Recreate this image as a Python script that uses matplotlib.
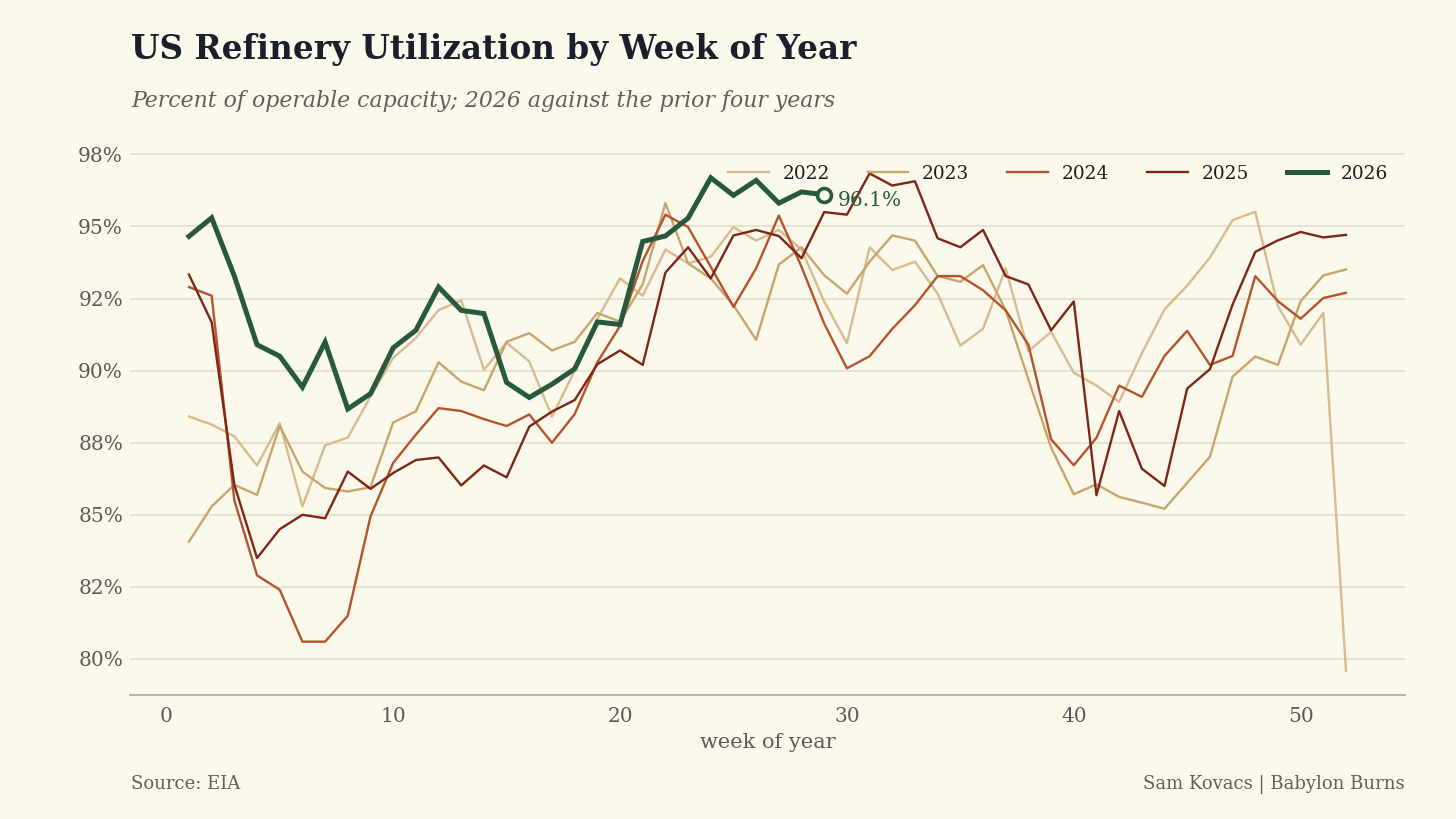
import matplotlib
matplotlib.use("Agg")
import matplotlib.pyplot as plt
import numpy as np
from matplotlib.ticker import FuncFormatter, FixedLocator

weeks = list(range(1, 53))

util_2022 = [88.41, 88.13, 87.72, 86.71, 88.18, 85.29, 87.41, 87.68, 89.1, 90.44,
             91.13, 92.1, 92.44, 90.03, 90.97, 90.32, 88.4, 90.0, 91.8, 93.2,
             92.6, 94.2, 93.72, 93.95, 94.98, 94.51, 94.88, 94.2, 92.4, 90.95,
             94.28, 93.49, 93.78, 92.67, 90.87, 91.45, 93.55, 90.67, 91.35, 89.93,
             89.48, 88.92, 90.6, 92.12, 92.95, 93.92, 95.22, 95.51, 92.23, 90.9,
             92.0, 79.58]
util_2023 = [84.07, 85.29, 86.04, 85.69, 88.09, 86.5, 85.93, 85.81, 85.96, 88.2,
             88.59, 90.29, 89.62, 89.32, 91.0, 91.3, 90.7, 91.0, 92.0, 91.7,
             93.0, 95.81, 93.72, 93.2, 92.27, 91.07, 93.68, 94.28, 93.31, 92.67,
             93.78, 94.69, 94.51, 93.28, 93.08, 93.66, 92.09, 89.7, 87.33, 85.71,
             86.06, 85.62, 85.42, 85.21, 86.11, 87.01, 89.79, 90.49, 90.2, 92.41,
             93.3, 93.51]
util_2024 = [92.9, 92.6, 85.5, 82.9, 82.4, 80.6, 80.6, 81.5, 84.94, 86.8,
             87.78, 88.7, 88.6, 88.32, 88.08, 88.48, 87.5, 88.49, 90.29, 91.55,
             93.8, 95.41, 94.98, 93.6, 92.21, 93.55, 95.38, 93.6, 91.63, 90.08,
             90.5, 91.45, 92.27, 93.28, 93.28, 92.79, 92.09, 90.9, 87.62, 86.72,
             87.67, 89.48, 89.09, 90.51, 91.38, 90.2, 90.51, 93.28, 92.41, 91.8,
             92.52, 92.7]
util_2025 = [93.33, 91.68, 86.04, 83.5, 84.5, 85.0, 84.88, 86.5, 85.9, 86.45,
             86.9, 86.99, 86.02, 86.71, 86.3, 88.06, 88.58, 88.98, 90.22, 90.7,
             90.2, 93.4, 94.28, 93.2, 94.69, 94.88, 94.67, 93.9, 95.5, 95.41,
             96.84, 96.42, 96.57, 94.59, 94.28, 94.88, 93.28, 92.99, 91.4, 92.4,
             85.68, 88.6, 86.6, 86.0, 89.38, 90.05, 92.29, 94.12, 94.52, 94.81,
             94.62, 94.71]
weeks_2026 = list(range(1, 30))
util_2026 = [94.66, 95.3, 93.28, 90.9, 90.5, 89.43, 90.99, 88.67, 89.2, 90.79,
             91.4, 92.9, 92.09, 91.98, 89.59, 89.07, 89.53, 90.06, 91.69, 91.6,
             94.48, 94.67, 95.29, 96.69, 96.08, 96.6, 95.81, 96.2, 96.1]

y_ticks = [80, 82.5, 85, 87.5, 90, 92.5, 95, 97.5]
x_ticks = [0, 10, 20, 30, 40, 50]

BG = "#fbf8ec"
colors = {"2022": "#d6bc8f", "2023": "#c8a56c", "2024": "#b5532e", "2025": "#7d2616", "2026": "#275a3d"}

plt.rcParams["font.family"] = ["DejaVu Serif"]

fig = plt.figure(figsize=(14.56, 8.19), dpi=100, facecolor=BG)
ax = fig.add_axes([130/1456, 1 - 695/819, (1405-130)/1456, (695-140)/819])
ax.set_facecolor(BG)

series = [("2022", util_2022), ("2023", util_2023), ("2024", util_2024), ("2025", util_2025)]
for name, vals in series:
    ax.plot(weeks, vals, color=colors[name], lw=1.7, label=name, zorder=2)
ax.plot(weeks_2026, util_2026, color=colors["2026"], lw=3.6, label="2026", zorder=4,
        solid_joinstyle="miter")
ax.plot([weeks_2026[-1]], [util_2026[-1]], marker="o", ms=10, mfc=BG, mec=colors["2026"],
        mew=2.6, zorder=5, ls="none")
ax.annotate(f"{util_2026[-1]:.1f}%", (weeks_2026[-1], util_2026[-1]), xytext=(10, -4),
            textcoords="offset points", color=colors["2026"], fontsize=14.5, va="center", ha="left")

ax.set_xlim(-1.6, 54.6)
ax.set_ylim(78.75, 98.0)
ax.yaxis.set_major_locator(FixedLocator(y_ticks))
ax.yaxis.set_major_formatter(FuncFormatter(lambda v, p: f"{v:.0f}%"))
ax.set_xticks(x_ticks)
ax.grid(axis="y", color="#e2ddcb", lw=1.1, zorder=0)
ax.set_axisbelow(True)
for s in ["top", "right", "left"]:
    ax.spines[s].set_visible(False)
ax.spines["bottom"].set_color("#aaa89a")
ax.spines["bottom"].set_linewidth(1.2)
ax.tick_params(axis="both", length=0, labelsize=14.5, labelcolor="#5a5a5a")
ax.tick_params(axis="y", pad=5)
ax.tick_params(axis="x", pad=9)
ax.set_xlabel("week of year", fontsize=15, color="#5a5a5a", labelpad=5)

leg = ax.legend(loc="upper right", ncol=5, frameon=False, fontsize=13.3, handlelength=2.2,
                columnspacing=2.05, handletextpad=0.75, bbox_to_anchor=(1.0, 0.985))
for t in leg.get_texts():
    t.set_color("#1c1c1c")

fig.text(131/1456, 1 - 50/819, "US Refinery Utilization by Week of Year", fontsize=23.5,
         fontweight="bold", color="#1a1f2b", va="center", ha="left")
fig.text(131/1456, 1 - 101/819, "Percent of operable capacity; 2026 against the prior four years",
         fontsize=15.8, style="italic", color="#5f5f5f", va="center", ha="left")
fig.text(131/1456, 1 - 784/819, "Source: EIA", fontsize=13, color="#5f5f5f", va="center", ha="left")
fig.text(1405/1456, 1 - 784/819, "Sam Kovacs | Babylon Burns", fontsize=13, color="#5f5f5f",
         va="center", ha="right")

fig.savefig("out.png", dpi=100, facecolor=BG)
